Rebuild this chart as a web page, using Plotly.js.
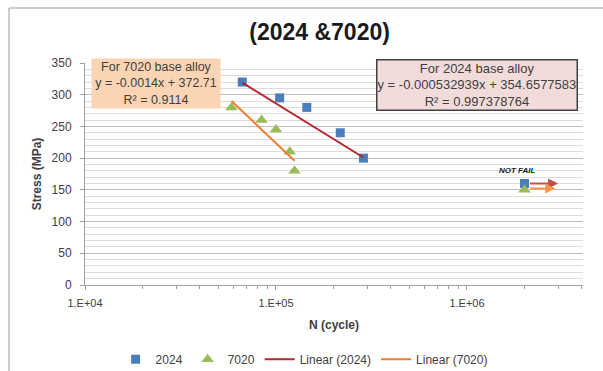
<!DOCTYPE html>
<html>
<head>
<meta charset="utf-8">
<script src="https://cdn.plot.ly/plotly-3.0.1.min.js"></script>
<style>
html,body{margin:0;padding:0;background:#fff;}
#chart{width:603px;height:371px;}
</style>
</head>
<body>
<div id="chart"></div>
<script>
// Data
const cycles2024 = [66600, 104500, 145000, 217000, 287000, 2000000];
const stress2024 = [320, 295, 280, 240, 200, 160];
const cycles7020 = [58500, 84000, 100000, 118000, 125000, 2000000];
const stress7020 = [280, 260, 245, 210, 180, 150];
// Trendline endpoints (as drawn)
const trendCycles2024 = [66600, 287000];
const trendStress2024 = [319, 201];
const trendCycles7020 = [58500, 125000];
const trendStress7020 = [290, 196];
// "Not fail" arrows (run-out)
const runoutStartN = [2100000, 2100000];
const runoutEndN = [3000000, 2900000];
const runoutStress = [160, 152];
const xTickVals = [1e4, 1e5, 1e6];
const xTickText = ['1.E+04', '1.E+05', '1.E+06'];

const FONT = 'Liberation Sans, Arial, sans-serif';
const TXT = '#404040';

const minorX = [];
[1e4, 1e5, 1e6].forEach(d => { for (let k = 2; k <= 9; k++) { if (d * k <= 4e6) minorX.push(d * k); } });

const traces = [
  {x: cycles2024, y: stress2024, name: '2024', type: 'scatter', mode: 'markers',
   marker: {symbol: 'square', size: 9, color: '#4a7ebb'}},
  {x: cycles7020, y: stress7020, name: '7020', type: 'scatter', mode: 'markers',
   marker: {symbol: 'triangle-up', size: 11, color: '#9bbb59'}},
  {x: trendCycles2024, y: trendStress2024, name: 'Linear (2024)', type: 'scatter', mode: 'lines',
   line: {color: '#b3262d', width: 2}},
  {x: trendCycles7020, y: trendStress7020, name: 'Linear (7020)', type: 'scatter', mode: 'lines',
   line: {color: '#ef7d2f', width: 2}}
];

const arrowColors = ['#c0504d', '#f79646'];
const annotations = [
  {xref: 'paper', yref: 'paper', x: 0.1426, y: 0.908, xanchor: 'center', yanchor: 'middle', showarrow: false,
   text: 'For 7020 base alloy<br>y = -0.0014x + 372.71<br>R² = 0.9114',
   font: {family: FONT, size: 12.5, color: TXT}, align: 'center',
   bgcolor: '#fbd4b4', borderpad: 1, width: 126},
  {xref: 'paper', yref: 'paper', x: 0.787, y: 0.903, xanchor: 'center', yanchor: 'middle', showarrow: false,
   text: 'For 2024 base alloy<br>y = -0.000532939x + 354.6577583<br>R² = 0.997378764',
   font: {family: FONT, size: 13, color: TXT}, align: 'center',
   bgcolor: '#f2dcdb', bordercolor: '#404040', borderwidth: 1.5, borderpad: 0},
  {xref: 'x', yref: 'y', x: Math.log10(1830000), y: 181, showarrow: false,
   text: '<b><i>NOT FAIL</i></b>', font: {family: FONT, size: 8, color: '#202020'}}
];
for (let i = 0; i < runoutEndN.length; i++) {
  annotations.push({xref: 'x', yref: 'y', axref: 'x', ayref: 'y',
    x: Math.log10(runoutEndN[i]), y: runoutStress[i],
    ax: Math.log10(runoutStartN[i]), ay: runoutStress[i],
    showarrow: true, arrowhead: 2, arrowsize: 1, arrowwidth: 2, arrowcolor: arrowColors[i], text: ''});
}

const layout = {
  width: 603, height: 371,
  margin: {l: 85, r: 20, t: 63, b: 86, autoexpand: false},
  paper_bgcolor: '#ffffff', plot_bgcolor: '#ffffff',
  font: {family: FONT, size: 11, color: TXT},
  title: {text: '<b>(2024 &7020)</b>', font: {family: FONT, size: 23, color: '#1a1a1a'},
          x: 0.53, xanchor: 'center', y: 0.915, yanchor: 'middle'},
  xaxis: {type: 'log', range: [4, Math.log10(4.05e6)],
          tickmode: 'array', tickvals: xTickVals, ticktext: xTickText,
          showgrid: false, zeroline: false, showline: true, linecolor: '#a0a0a0', linewidth: 1,
          ticks: 'outside', ticklen: 4, tickcolor: '#a0a0a0', ticklabelstandoff: 4,
          minor: {tickmode: 'array', tickvals: minorX, ticks: 'outside', ticklen: 3, tickcolor: '#a0a0a0', showgrid: false},
          tickfont: {family: FONT, size: 11, color: TXT},
          title: {text: '<b>N (cycle)</b>', font: {family: FONT, size: 12, color: TXT}, standoff: 12}},
  yaxis: {range: [0, 350], dtick: 50, tick0: 0,
          showgrid: true, gridcolor: '#bfbfbf', gridwidth: 1,
          zeroline: false, showline: true, linecolor: '#a0a0a0', linewidth: 1,
          ticks: 'outside', ticklen: 4, tickcolor: '#a0a0a0', ticklabelstandoff: 6,
          minor: {dtick: 10, showgrid: true, gridcolor: '#dcdcdc', gridwidth: 1, ticks: ''},
          tickfont: {family: FONT, size: 12, color: TXT},
          title: {text: '<b>Stress (MPa)</b>', font: {family: FONT, size: 12, color: TXT}, standoff: 7}},
  showlegend: true,
  legend: {orientation: 'h', x: 0.44, xanchor: 'center', y: -0.335, yanchor: 'middle',
           font: {family: FONT, size: 12, color: TXT}, bgcolor: 'rgba(0,0,0,0)', itemwidth: 30},
  annotations: annotations,
  shapes: [
    {type: 'line', xref: 'paper', yref: 'paper', x0: -0.1526, x1: -0.1526, y0: 1.2477, y1: -0.4, line: {color: '#9a9a9a', width: 1}},
    {type: 'line', xref: 'paper', yref: 'paper', x0: -0.1526, x1: 1.05, y0: 1.2477, y1: 1.2477, line: {color: '#9a9a9a', width: 1}}
  ]
};

Plotly.newPlot('chart', traces, layout, {displayModeBar: false, staticPlot: true});
</script>
</body>
</html>
